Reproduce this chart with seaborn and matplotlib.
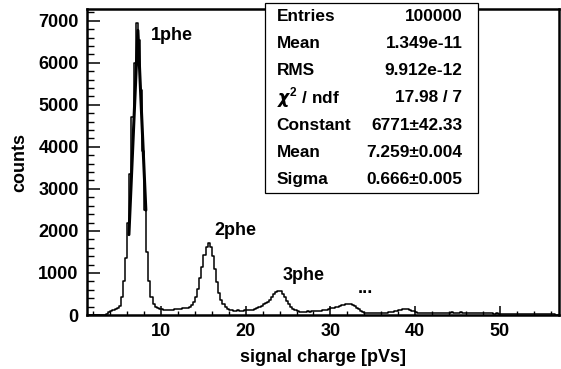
import numpy as np
import pandas as pd
import matplotlib
matplotlib.use("Agg")
import matplotlib.pyplot as plt
from matplotlib.patches import Rectangle
from matplotlib.ticker import MultipleLocator
import seaborn as sns

# Histogram binning (pVs)
bin_start = 1.25
bin_width = 0.25

# Counts per bin, 8 bins (2 pVs) per row
counts = [
    0, 0, 0, 0, 0, 0, 0, 0,                          # 1.25 - 3.25
    10, 30, 60, 95, 120, 140, 170, 220,              # 3.25 - 5.25
    430, 800, 1350, 2200, 3350, 4700, 6000, 6940,    # 5.25 - 7.25
    6550, 5350, 3900, 2500, 1500, 800, 420, 270,     # 7.25 - 9.25
    200, 170, 145, 135, 125, 120, 125, 130,          # 9.25 - 11.25
    128, 135, 140, 140, 150, 155, 165, 175,          # 11.25 - 13.25
    190, 230, 300, 420, 620, 880, 1150, 1420,        # 13.25 - 15.25
    1620, 1710, 1620, 1400, 1100, 790, 530, 350,     # 15.25 - 17.25
    250, 190, 150, 125, 110, 100, 100, 110,          # 17.25 - 19.25
    95, 105, 110, 115, 110, 125, 130, 140,           # 19.25 - 21.25
    155, 190, 220, 250, 280, 300, 360, 430,          # 21.25 - 23.25
    500, 550, 580, 560, 500, 420, 330, 250,          # 23.25 - 25.25
    190, 140, 110, 90, 80, 75, 80, 75,               # 25.25 - 27.25
    85, 80, 90, 95, 90, 105, 100, 110,               # 27.25 - 29.25
    120, 130, 140, 155, 165, 180, 200, 215,          # 29.25 - 31.25
    230, 245, 255, 260, 250, 235, 210, 175,          # 31.25 - 33.25
    140, 105, 75, 55, 45, 40, 42, 38,                # 33.25 - 35.25
    45, 40, 48, 42, 50, 55, 60, 70,                  # 35.25 - 37.25
    80, 90, 100, 115, 125, 135, 140, 135,            # 37.25 - 39.25
    125, 105, 85, 65, 50, 42, 38, 45,                # 39.25 - 41.25
    40, 48, 42, 50, 45, 52, 48, 55,                  # 41.25 - 43.25
    50, 58, 52, 55, 60, 55, 58, 55,                  # 43.25 - 45.25
    60, 52, 55, 50, 55, 48, 52, 45,                  # 45.25 - 47.25
    50, 45, 42, 45, 40, 42, 38, 40,                  # 47.25 - 49.25
    35, 38, 33, 35, 30, 32, 28, 30,                  # 49.25 - 51.25
    27, 28, 25, 26, 23, 24, 22, 22,                  # 51.25 - 53.25
    20, 20, 18, 19, 17, 17, 15, 16,                  # 53.25 - 55.25
    14, 14, 13, 12, 12, 11, 10, 9,                   # 55.25 - 57.25
]

# Gaussian fit of the single-photoelectron peak
fit_constant = 6771
fit_mean = 7.259
fit_sigma = 0.666
fit_x = [6.2, 7.259, 8.2]

# Statistics box
stats_labels = ["Entries", "Mean", "RMS", r"$\chi^{2}$ / ndf",
                "Constant", "Mean", "Sigma"]
stats_values = ["100000", "1.349e-11", "9.912e-12", "17.98 / 7",
                "6771\u00b142.33", "7.259\u00b10.004", "0.666\u00b10.005"]

# Peak annotations
peak_labels = ["1phe", "2phe", "3phe", "..."]
peak_label_x = [8.78, 16.3, 24.37, 33.18]
peak_label_y = [6548, 1905, 833, 531]

sns.set_theme(style="white")
plt.rcParams["font.family"] = ["Liberation Sans", "DejaVu Sans"]
plt.rcParams["font.weight"] = "bold"
plt.rcParams["text.color"] = "black"
plt.rcParams["axes.labelcolor"] = "black"
plt.rcParams["xtick.color"] = "black"
plt.rcParams["ytick.color"] = "black"
plt.rcParams["mathtext.fontset"] = "custom"
plt.rcParams["mathtext.rm"] = "Liberation Sans:bold"
plt.rcParams["mathtext.it"] = "DejaVu Sans:italic"

W, H = 561, 369
fig = plt.figure(figsize=(W / 100, H / 100), dpi=100)
ax_left, ax_right, ax_top, ax_bottom = 87, 559, 9, 315
ax = fig.add_axes([ax_left / W, 1 - ax_bottom / H,
                   (ax_right - ax_left) / W, (ax_bottom - ax_top) / H])

n_bins = len(counts)
centers = bin_start + bin_width * (np.arange(n_bins) + 0.5)
hist_df = pd.DataFrame({"charge": centers, "count": counts})

sns.histplot(data=hist_df, x="charge", weights="count",
             binwidth=bin_width,
             binrange=(bin_start, bin_start + bin_width * n_bins),
             element="step", fill=False, color="black", linewidth=1.1,
             ax=ax)

fit_x_arr = np.array(fit_x)
fit_y = fit_constant * np.exp(-0.5 * ((fit_x_arr - fit_mean) / fit_sigma) ** 2)
sns.lineplot(x=fit_x_arr, y=fit_y, color="black", linewidth=2.2,
             sort=False, ax=ax)

ax.set_xlim(1.25, 57.0)
ax.set_ylim(0, 7280)

ax.xaxis.set_major_locator(MultipleLocator(10))
ax.xaxis.set_minor_locator(MultipleLocator(2))
ax.yaxis.set_major_locator(MultipleLocator(1000))
ax.yaxis.set_minor_locator(MultipleLocator(200))

ax.tick_params(axis="x", which="major", direction="in", length=6.5,
               width=1.1, pad=6, labelsize=13, bottom=True, top=False,
               color="black", labelcolor="black")
ax.tick_params(axis="x", which="minor", direction="in", length=3,
               width=1.0, bottom=True, top=False, color="black")
ax.tick_params(axis="y", which="major", direction="in", length=9.5,
               width=1.1, pad=6, labelsize=13, left=True, right=False,
               color="black", labelcolor="black")
ax.tick_params(axis="y", which="minor", direction="in", length=4.8,
               width=1.0, left=True, right=False, color="black")
for lab in ax.get_xticklabels() + ax.get_yticklabels():
    lab.set_fontweight("bold")

for side in ["left", "right", "top", "bottom"]:
    ax.spines[side].set_linewidth(1.8)
    ax.spines[side].set_color("black")

ax.set_xlabel("signal charge [pVs]", fontsize=13, fontweight="bold",
              labelpad=6, color="black")
ax.set_ylabel("counts", fontsize=13, fontweight="bold", labelpad=7,
              color="black")

for txt, px, py in zip(peak_labels, peak_label_x, peak_label_y):
    ax.text(px, py, txt, fontsize=13, fontweight="bold", ha="left",
            va="baseline", color="black")

# Statistics box drawn in figure pixel coordinates
bx0, bx1, by0, by1 = 265, 477.7, 3.3, 192.7
fig.add_artist(Rectangle((bx0 / W, 1 - by1 / H), (bx1 - bx0) / W,
                         (by1 - by0) / H, transform=fig.transFigure,
                         facecolor="white", edgecolor="black",
                         linewidth=0.9, zorder=5))
row_h = (by1 - by0) / len(stats_labels)
for i, (lab, val) in enumerate(zip(stats_labels, stats_values)):
    yc = by0 + row_h * (i + 0.5)
    fig.text(276.7 / W, 1 - yc / H, lab, fontsize=12.4, fontweight="bold",
             ha="left", va="center", zorder=6, color="black")
    fig.text(462.3 / W, 1 - yc / H, val, fontsize=12.4, fontweight="bold",
             ha="right", va="center", zorder=6, color="black")

fig.savefig("out.png", dpi=100, facecolor="white")
